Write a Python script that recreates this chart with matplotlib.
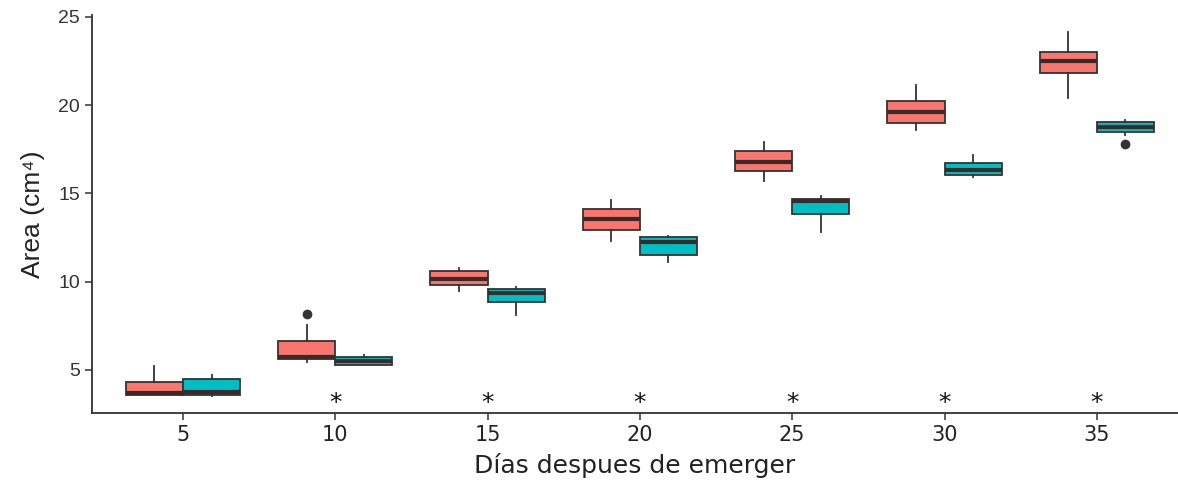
import matplotlib.pyplot as plt

days = [5, 10, 15, 20, 25, 30, 35]

# red group: whisker low, q1, median, q3, whisker high
red_wlo = [3.58, 5.44, 9.49, 12.33, 15.73, 18.60, 20.43]
red_q1 = [3.58, 5.62, 9.80, 12.93, 16.27, 18.98, 21.84]
red_med = [3.71, 5.75, 10.16, 13.56, 16.80, 19.62, 22.51]
red_q3 = [4.30, 6.64, 10.61, 14.10, 17.43, 20.26, 23.03]
red_whi = [5.23, 7.55, 10.76, 14.63, 17.94, 21.15, 24.17]
red_out = [[], [8.16], [], [], [], [], []]

# teal group
teal_wlo = [3.55, 5.28, 8.12, 11.10, 12.84, 15.95, 18.31]
teal_q1 = [3.58, 5.30, 8.87, 11.53, 13.84, 16.05, 18.50]
teal_med = [3.75, 5.50, 9.35, 12.24, 14.59, 16.33, 18.75]
teal_q3 = [4.51, 5.75, 9.59, 12.52, 14.69, 16.71, 19.03]
teal_whi = [4.72, 5.85, 9.72, 12.60, 14.86, 17.18, 19.16]
teal_out = [[], [], [], [], [], [], [17.80]]

signif = ["", "*", "*", "*", "*", "*", "*"]
sig_y = 3.15


def stats(wlo, q1, med, q3, whi, out):
    return [dict(whislo=a, q1=b, med=c, q3=d, whishi=e, fliers=f)
            for a, b, c, d, e, f in zip(wlo, q1, med, q3, whi, out)]


fig = plt.figure(figsize=(11.78, 4.9), dpi=100)
ax = fig.add_axes([92 / 1178, 1 - 413 / 490, 1 - 92 / 1178, 398 / 490])

pos = list(range(1, len(days) + 1))
w = 0.375
dark = "#333333"
common = dict(widths=w, patch_artist=True, showcaps=False,
              whiskerprops=dict(color=dark, lw=1.3),
              medianprops=dict(color="#3a2a2a", lw=3),
              flierprops=dict(marker="o", markerfacecolor=dark,
                              markeredgecolor=dark, markersize=6))

ax.bxp(stats(red_wlo, red_q1, red_med, red_q3, red_whi, red_out),
       positions=[p - w / 2 for p in pos],
       boxprops=dict(facecolor="#F8766D", edgecolor=dark, lw=1.3), **common)
ax.bxp(stats(teal_wlo, teal_q1, teal_med, teal_q3, teal_whi, teal_out),
       positions=[p + w / 2 for p in pos],
       boxprops=dict(facecolor="#00BFC4", edgecolor=dark, lw=1.3), **common)

for p, s in zip(pos, signif):
    if s:
        ax.text(p, sig_y, s, ha="center", va="center", fontsize=18,
                color="#111111", family="DejaVu Sans")

ax.set_xlim(1 - 91 / 152.3, 1 + (1178 - 183) / 152.3)
ax.set_ylim(2.564, 25.11)
ax.set_xticks(pos)
ax.set_xticklabels([str(d) for d in days], fontsize=15, family="DejaVu Sans",
                   color="#222222")
ax.set_yticks([5, 10, 15, 20, 25])
ax.set_yticklabels(["5", "10", "15", "20", "25"], fontsize=14,
                   family="Liberation Sans", color="#333333")
ax.tick_params(length=5, width=1.1, color=dark)
for side in ["top", "right"]:
    ax.spines[side].set_visible(False)
for side in ["left", "bottom"]:
    ax.spines[side].set_color(dark)
    ax.spines[side].set_linewidth(1.3)

ax.set_xlabel("Días despues de emerger", fontsize=18, family="DejaVu Sans",
              color="#222222", labelpad=6)
ax.set_ylabel("Area (cm\u2074)", fontsize=19,
              family=["Liberation Sans", "DejaVu Sans"],
              color="#222222", labelpad=10)

fig.savefig("out.png", dpi=100)
